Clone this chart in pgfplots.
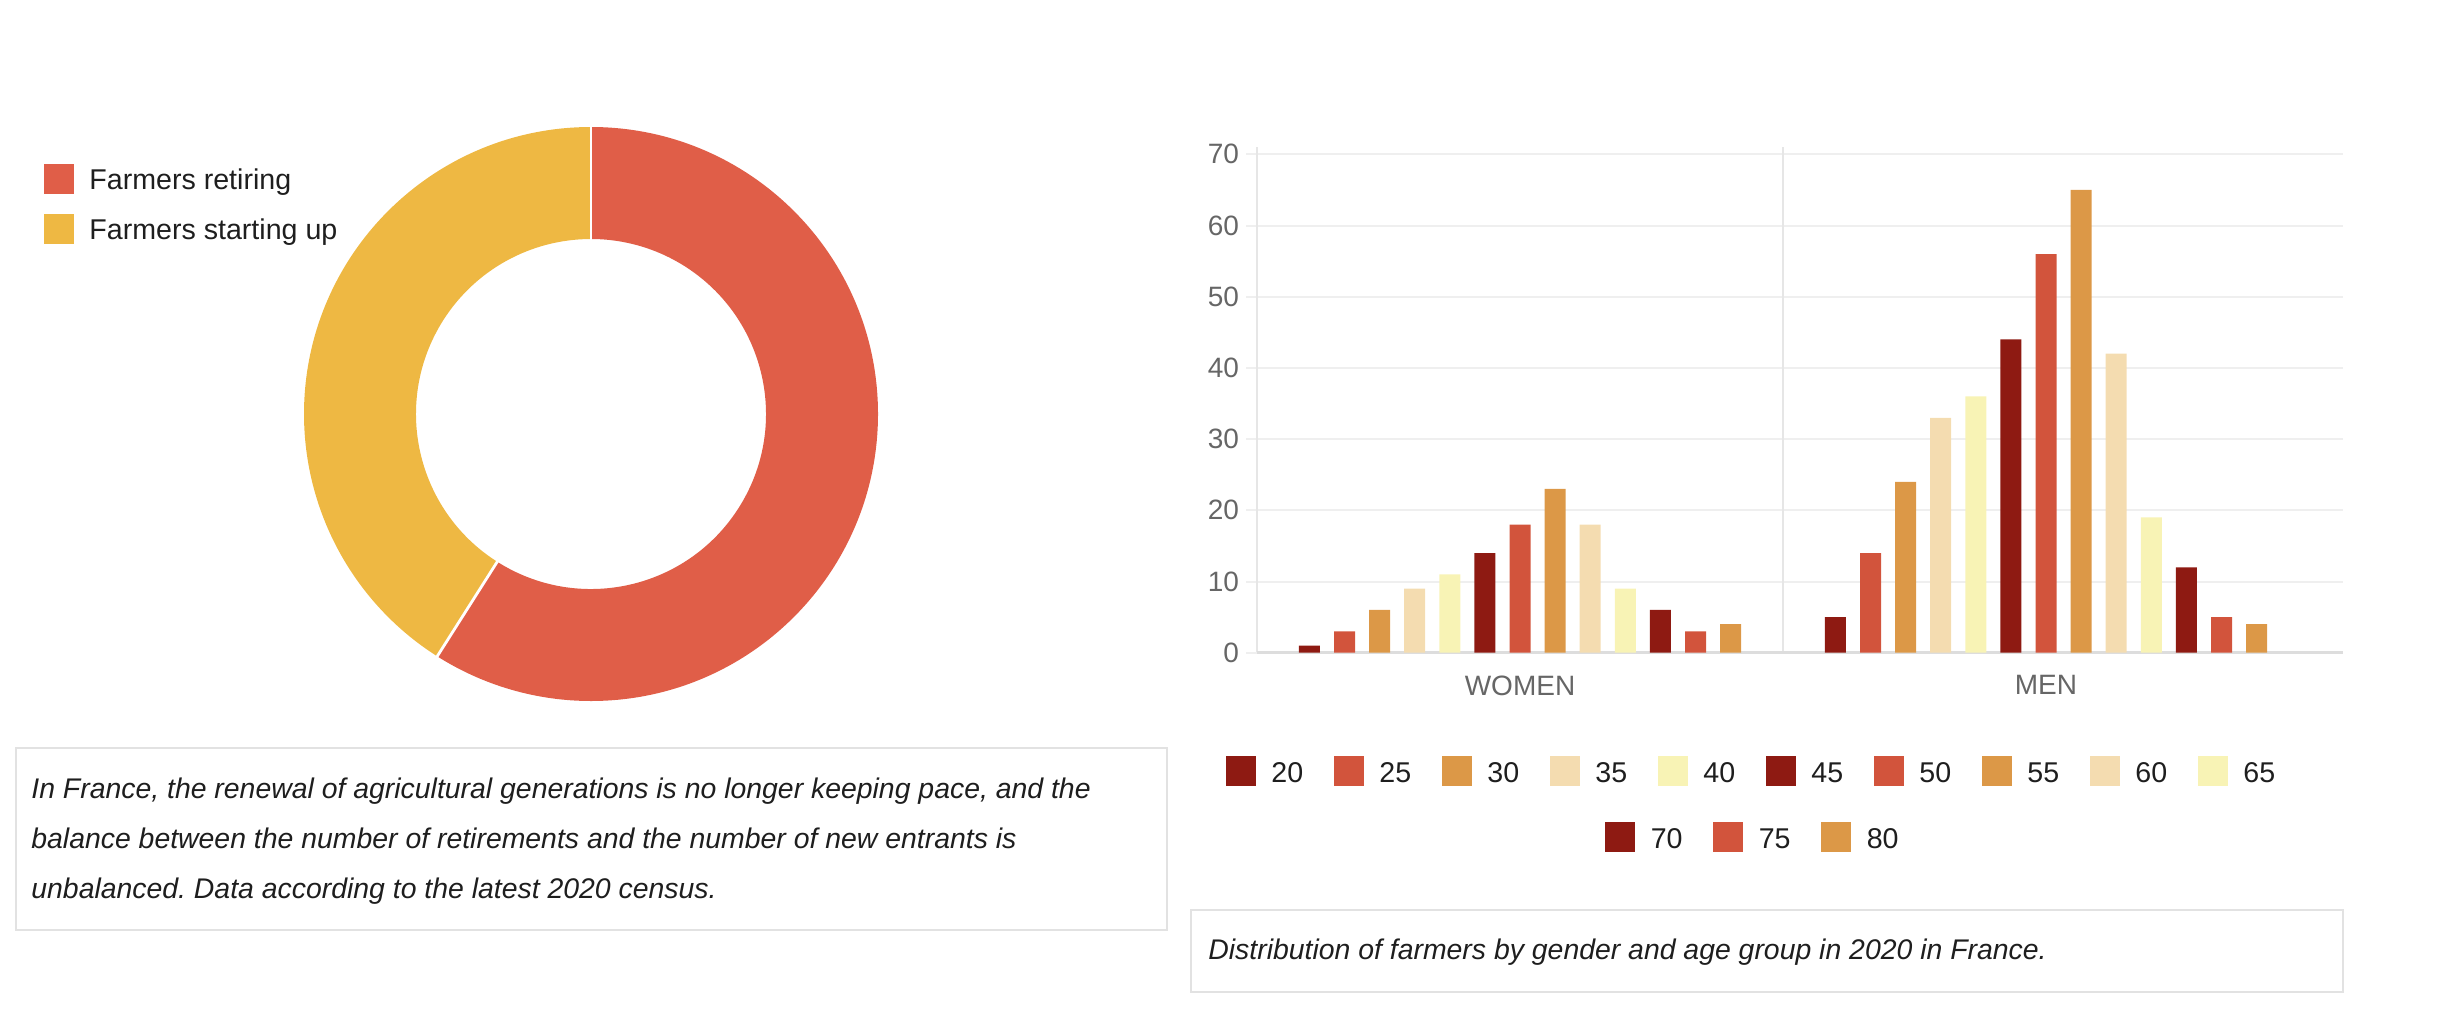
\documentclass[border=0pt]{standalone}
\usepackage{fontspec}
\setmainfont{Liberation Sans}
\usepackage{pgfplots}
\usepackage{pgfplotstable}
\pgfplotsset{compat=1.18}
\frenchspacing

\definecolor{donutred}{HTML}{E05E48}
\definecolor{donutyellow}{HTML}{EEB843}
\definecolor{bar0}{HTML}{8E1A12}
\definecolor{bar1}{HTML}{D2543C}
\definecolor{bar2}{HTML}{DC9847}
\definecolor{bar3}{HTML}{F4DCB0}
\definecolor{bar4}{HTML}{F8F3B5}
\definecolor{gridc}{HTML}{EFEFEF}
\definecolor{vgridc}{HTML}{E6E6E6}
\definecolor{basec}{HTML}{DDDDDD}
\definecolor{boxc}{HTML}{E2E2E2}
\definecolor{tickc}{HTML}{666666}
\definecolor{txt}{HTML}{1E1E1E}

\newcommand\lgfont{\fontsize{14.3}{17}\selectfont}
\newcommand\capfont{\fontsize{14.2}{17}\selectfont\itshape}
\newcommand\tkfont{\fontsize{14}{16}\selectfont}

% share of farmers retiring / starting up
\pgfplotstableread{
group value
retiring 59
starting 41
}\donutdata

\begin{document}
\begin{tikzpicture}
\useasboundingbox (0,0) rectangle (1230pt,-516pt);

\pgfplotstablegetelem{0}{value}\of\donutdata \let\vRet\pgfplotsretval
\pgfplotstablegetelem{1}{value}\of\donutdata \let\vStart\pgfplotsretval
\pgfmathsetmacro\donutfrac{\vRet/(\vRet+\vStart)}
\pgfmathsetmacro\donutsplit{90-360*\donutfrac}
\pgfmathsetmacro\donutsplitb{\donutsplit+360}

% donut
\begin{axis}[
  at={(295.5pt,-207pt)}, anchor=origin,
  x=143.5pt, y=143.5pt,
  xmin=-1, xmax=1, ymin=-1, ymax=1,
  hide axis, clip=false,
]
\fill[donutred] (axis cs:0,1) arc[start angle=90, end angle=\donutsplit, radius=143.5pt]
  -- (axis cs:{0.6098*cos(\donutsplit)},{0.6098*sin(\donutsplit)})
  arc[start angle=\donutsplit, end angle=90, radius=87.5pt] -- cycle;
\fill[donutyellow] (axis cs:0,1) arc[start angle=90, end angle=\donutsplitb, radius=143.5pt]
  -- (axis cs:{0.6098*cos(\donutsplitb)},{0.6098*sin(\donutsplitb)})
  arc[start angle=\donutsplitb, end angle=90, radius=87.5pt] -- cycle;
\draw[white, line width=1.4pt] (axis cs:0,0.6) -- (axis cs:0,1.01);
\draw[white, line width=1.4pt] (axis cs:{0.6*cos(\donutsplit)},{0.6*sin(\donutsplit)})
  -- (axis cs:{1.01*cos(\donutsplit)},{1.01*sin(\donutsplit)});
\end{axis}

% farmers by gender and age group
\begin{axis}[
  at={(628.5pt,-326.35pt)}, anchor=south west,
  x=263pt, y=3.5595pt,
  xmin=-0.5, xmax=1.565, ymin=0, ymax=71.1,
  ybar=7.05pt, bar width=10.5pt,
  axis line style={draw=none},
  tick pos=left, tick align=outside,
  major tick length=5.5pt,
  ytick={0,10,...,70},
  xtick={0,1}, xticklabels={WOMEN,MEN},
  xtick style={draw=none},
  ytick style={color=gridc, line width=1pt},
  ymajorgrids, major grid style={color=gridc, line width=1pt},
  extra x ticks={-0.5,0.5}, extra x tick labels={},
  extra x tick style={grid=major, major grid style={color=vgridc, line width=1pt},
    tick style={draw=vgridc, line width=1pt}, major tick length=5pt},
  extra y ticks={0}, extra y tick labels={},
  extra y tick style={grid=major, major grid style={color=basec, line width=1.5pt}},
  /pgf/number format/assume math mode=true,
  yticklabel style={font=\tkfont, text=tickc},
  xticklabel style={font=\tkfont, text=tickc, yshift=-2.4pt},
]
\addplot[fill=bar0, draw=none] coordinates {(0,1) (1,5)};   % 20
\addplot[fill=bar1, draw=none] coordinates {(0,3) (1,14)};  % 25
\addplot[fill=bar2, draw=none] coordinates {(0,6) (1,24)};  % 30
\addplot[fill=bar3, draw=none] coordinates {(0,9) (1,33)};  % 35
\addplot[fill=bar4, draw=none] coordinates {(0,11) (1,36)}; % 40
\addplot[fill=bar0, draw=none] coordinates {(0,14) (1,44)}; % 45
\addplot[fill=bar1, draw=none] coordinates {(0,18) (1,56)}; % 50
\addplot[fill=bar2, draw=none] coordinates {(0,23) (1,65)}; % 55
\addplot[fill=bar3, draw=none] coordinates {(0,18) (1,42)}; % 60
\addplot[fill=bar4, draw=none] coordinates {(0,9) (1,19)};  % 65
\addplot[fill=bar0, draw=none] coordinates {(0,6) (1,12)};  % 70
\addplot[fill=bar1, draw=none] coordinates {(0,3) (1,5)};   % 75
\addplot[fill=bar2, draw=none] coordinates {(0,4) (1,4)};   % 80
\end{axis}

\begin{scope}[x=0.5pt, y=-0.5pt]
% donut legend
\fill[donutred] (44,164) rectangle (74,194);
\node[anchor=base west, inner sep=0pt, font=\lgfont, text=txt] at (89,190) {Farmers retiring};
\fill[donutyellow] (44,214) rectangle (74,244);
\node[anchor=base west, inner sep=0pt, font=\lgfont, text=txt] at (89,240) {Farmers starting up};

% captions
\draw[boxc, line width=1pt] (15.5,748) rectangle (1167,930);
\node[anchor=base west, inner sep=0pt, font=\capfont, text=txt] at (31,798)
  {In France, the renewal of agricultural generations is no longer keeping pace, and the};
\node[anchor=base west, inner sep=0pt, font=\capfont, text=txt] at (31,848)
  {balance between the number of retirements and the number of new entrants is};
\node[anchor=base west, inner sep=0pt, font=\capfont, text=txt] at (31,898)
  {unbalanced. Data according to the latest 2020 census.};
\draw[boxc, line width=1pt] (1191,910) rectangle (2343,992);
\node[anchor=base west, inner sep=0pt, font=\capfont, text=txt] at (1208,959)
  {Distribution of farmers by gender and age group in 2020 in France.};

% bar legend
\foreach \lab [count=\i from 0] in {20,25,30,35,40,45,50,55,60,65} {
  \pgfmathtruncatemacro\k{mod(\i,5)}
  \fill[bar\k] ({1225.6+108*\i},756) rectangle ++(30,30);
  \node[anchor=base west, inner sep=0pt, font=\lgfont, text=txt] at ({1271+108*\i},782) {\lab};
}
\foreach \lab [count=\i from 0] in {70,75,80} {
  \fill[bar\i] ({1605+108*\i},822) rectangle ++(30,30);
  \node[anchor=base west, inner sep=0pt, font=\lgfont, text=txt] at ({1650.4+108*\i},848) {\lab};
}
\end{scope}
\end{tikzpicture}
\end{document}
